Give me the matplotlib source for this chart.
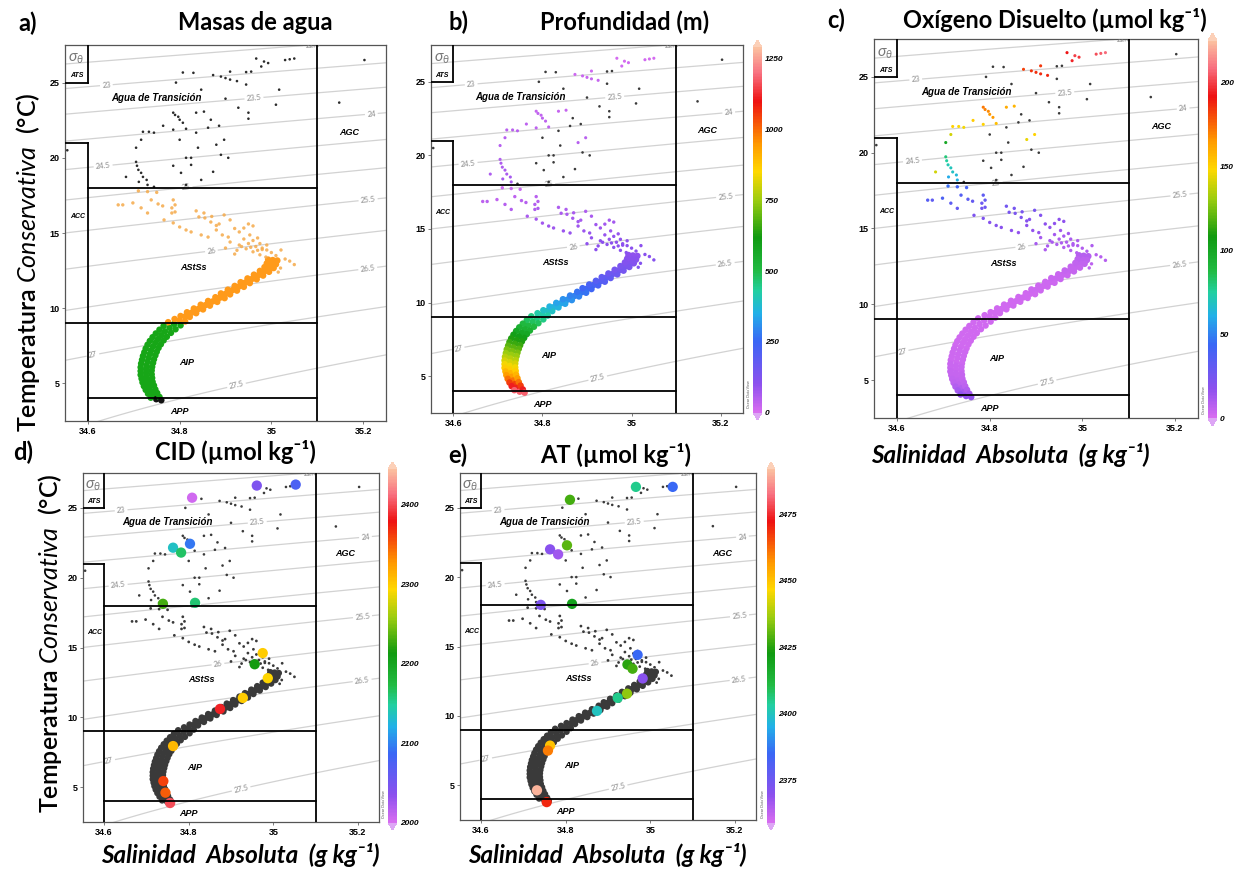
import numpy as np
import matplotlib
matplotlib.use('Agg')
import matplotlib.pyplot as plt
from matplotlib.colors import LinearSegmentedColormap, Normalize
from matplotlib.cm import ScalarMappable

plt.rcParams['font.family'] = ['Lato', 'DejaVu Sans']
plt.rcParams['mathtext.fontset'] = 'custom'
plt.rcParams['mathtext.rm'] = 'Lato'
plt.rcParams['mathtext.it'] = 'Lato:italic'
plt.rcParams['mathtext.bf'] = 'Lato:bold'

nan = np.nan

# ---------------- DATA ----------------
# Transition-water CTD points (T > 18 C); nan depth/oxygen = point without that variable (drawn gray)
trans_S = [35.040, 35.050, 35.030, 34.984, 34.993, 34.978, 34.967, 34.956, 34.945, 34.807,
           34.830, 34.873, 34.890, 34.900, 34.910, 34.925, 34.910, 34.945, 35.017, 34.792,
           34.847, 34.900, 34.928, 34.950, 34.950, 35.010, 34.786, 34.790, 34.797, 34.800,
           34.807, 34.836, 34.853, 34.868, 34.886, 34.814, 34.862, 34.764, 34.786, 34.720,
           34.733, 34.744, 34.836, 34.716, 34.800, 34.897, 34.705, 34.840, 34.880, 34.890,
           34.906, 34.814, 34.825, 34.825, 34.786, 34.705, 34.707, 34.710, 34.716, 34.720,
           34.728, 34.730, 34.683, 34.711, 34.803, 34.847, 34.873, 34.814, 34.744, 35.203,
           35.148, 34.555]
trans_T = [26.55, 26.60, 26.50, 26.40, 26.30, 26.07, 26.60, 25.73, 25.70, 25.67,
           25.65, 25.50, 25.40, 25.30, 25.20, 25.10, 25.73, 24.87, 24.53, 25.00,
           24.53, 23.93, 23.33, 23.00, 22.60, 23.53, 23.00, 22.85, 22.73, 22.53,
           22.33, 23.00, 23.07, 22.53, 22.13, 21.93, 22.00, 22.13, 21.87, 21.73,
           21.73, 21.67, 21.67, 21.20, 21.20, 21.20, 20.67, 20.67, 20.87, 20.20,
           20.00, 20.00, 20.00, 19.53, 19.47, 19.73, 19.47, 19.20, 19.00, 18.73,
           18.53, 18.20, 18.73, 18.40, 19.00, 18.53, 19.07, 18.20, 18.07, 26.50,
           23.67, 20.50]
trans_depth = [10, 8, 12, 10, 12, 15, 8, nan, nan, nan,
               nan, 20, 22, 24, 26, 28, 18, nan, nan, nan,
               nan, nan, nan, nan, nan, nan, 30, 32, 34, 36,
               38, 30, 30, nan, nan, 40, nan, 38, 40, 42,
               42, 44, nan, 46, nan, 45, 50, nan, 48, nan,
               nan, nan, nan, nan, nan, 55, 58, 60, 62, 64,
               66, 68, 60, 66, nan, nan, nan, nan, nan, nan,
               nan, nan]
trans_o2 = [205, 208, 203, 200, 198, 195, 192, nan, nan, nan,
            nan, 182, 185, 186, 187, 188, 184, nan, nan, nan,
            nan, nan, nan, nan, nan, nan, 172, 170, 168, 166,
            165, 160, 158, nan, nan, 155, nan, 152, 150, 150,
            148, 146, nan, 140, nan, 150, 100, nan, 145, nan,
            nan, nan, nan, nan, nan, 80, 75, 72, 70, 68,
            65, 62, 140, 60, nan, nan, nan, nan, nan, nan,
            nan, nan]

# Scattered CTD points of the upper AStSs (9 < T < 18)
ast_S = [34.666, 34.676, 34.698, 34.710, 34.730, 34.750, 34.716, 34.730, 34.738, 34.753,
         34.763, 34.783, 34.790, 34.783, 34.786, 34.790, 34.766, 34.786, 34.800, 34.814,
         34.825, 34.842, 34.855, 34.868, 34.886, 34.836, 34.853, 34.897, 34.910, 34.847,
         34.862, 34.880, 34.893, 34.906, 34.930, 34.940, 34.953, 34.970, 34.910, 34.930,
         34.950, 34.966, 34.980, 34.990, 35.021, 35.030, 35.040, 35.020, 34.900, 34.920,
         34.950, 34.960, 34.940, 34.960, 34.975, 34.990, 35.000, 35.010, 34.980, 35.050,
         35.015, 34.880, 34.870, 34.920, 34.945, 34.960, 34.975, 34.988, 34.935, 34.955,
         34.925, 34.970]
ast_T = [16.87, 16.87, 17.00, 17.80, 17.75, 17.70, 16.67, 16.33, 17.20, 16.93,
         16.80, 16.67, 16.40, 16.33, 17.20, 16.87, 15.87, 15.67, 15.40, 15.20,
         15.07, 16.07, 16.00, 15.73, 15.60, 16.47, 16.33, 16.20, 15.87, 14.87,
         14.73, 15.20, 14.87, 14.73, 15.07, 15.33, 14.87, 14.67, 14.40, 14.20,
         14.30, 14.10, 14.00, 13.87, 13.87, 13.27, 13.13, 12.67, 14.00, 13.60,
         15.60, 15.47, 14.60, 14.50, 14.30, 14.20, 13.70, 13.50, 13.90, 12.90,
         12.40, 15.50, 16.10, 15.30, 13.95, 13.75, 13.55, 13.40, 14.10, 14.05,
         13.85, 13.85]
ast_depth = [40, 45, 35, 20, 25, 25, 50, 55, 40, 45,
             50, 55, 60, 60, 45, 50, 65, 70, 75, 80,
             80, 65, 65, 70, 70, 60, 60, 60, 65, 85,
             90, 80, 85, 90, 80, 75, 85, 90, 95, 100,
             95, 100, 100, 105, 105, 110, 110, 120, 100, 105,
             70, 72, 90, 92, 96, 98, 105, 108, 102, 115,
             125, 75, 62, 78, 104, 106, 108, 110, 102, 103,
             104, 105]
ast_o2 = [35, 32, 38, 45, 42, 40, 33, 30, 36, 33,
          30, 28, 27, 26, 32, 30, 22, 22, 20, 20,
          19, 24, 23, 22, 20, 26, 25, 24, 21, 18,
          16, 18, 16, 15, 16, 17, 14, 13, 12, 12,
          11, 10, 10, 9, 10, 8, 8, 7, 12, 10,
          18, 17, 13, 12, 11, 10, 9, 9, 10, 8,
          7, 20, 24, 18, 10, 9, 9, 8, 11, 10,
          11, 9]

# Dense lower profile: three casts sampled at the same depth levels
band_depth = [100, 110, 120, 132, 145, 160, 180, 200, 222, 245,
              268, 290, 312, 335, 360, 390, 420, 450, 480, 510,
              540, 570, 600, 630, 660, 690, 720, 750, 780, 810,
              840, 870, 905, 940, 990, 1050, 1110, 1180]
band_o2 = [8, 7, 6, 5, 5, 4, 4, 3, 3, 3,
           2, 2, 2, 2, 2, 2, 2, 2, 2, 2,
           2, 2, 2, 2, 2, 3, 3, 3, 3, 4,
           4, 5, 5, 6, 7, 9, 12, 16]
castA_S = [35.003, 35.000, 34.995, 34.985, 34.972, 34.958, 34.943, 34.930, 34.915, 34.900,
           34.888, 34.872, 34.856, 34.841, 34.826, 34.812, 34.800, 34.788, 34.778, 34.768,
           34.760, 34.753, 34.747, 34.742, 34.738, 34.735, 34.732, 34.730, 34.728, 34.727,
           34.727, 34.727, 34.729, 34.731, 34.734, 34.738, 34.743, 34.749]
castA_T = [13.20, 12.95, 12.70, 12.45, 12.20, 11.95, 11.70, 11.45, 11.20, 10.95,
           10.70, 10.45, 10.20, 9.95, 9.70, 9.45, 9.20, 8.95, 8.70, 8.45,
           8.20, 7.95, 7.70, 7.45, 7.20, 6.95, 6.70, 6.45, 6.20, 5.95,
           5.70, 5.45, 5.20, 4.95, 4.70, 4.45, 4.20, 3.95]
castB_S = [35.013, 35.010, 35.005, 34.995, 34.982, 34.968, 34.953, 34.940, 34.925, 34.910,
           34.898, 34.882, 34.866, 34.851, 34.836, 34.822, 34.812, 34.802, 34.791, 34.781,
           34.772, 34.765, 34.759, 34.754, 34.750, 34.747, 34.744, 34.742, 34.740, 34.739,
           34.739, 34.740, 34.741, 34.744, 34.747, 34.751, 34.756, 34.760]
castB_T = [13.17, 12.92, 12.67, 12.42, 12.17, 11.92, 11.67, 11.42, 11.17, 10.92,
           10.67, 10.42, 10.17, 9.92, 9.67, 9.42, 9.12, 8.86, 8.60, 8.36,
           8.10, 7.86, 7.60, 7.36, 7.10, 6.86, 6.60, 6.36, 6.10, 5.86,
           5.60, 5.36, 5.10, 4.86, 4.60, 4.36, 4.10, 3.88]
castC_S = [34.993, 34.990, 34.985, 34.975, 34.962, 34.948, 34.933, 34.920, 34.905, 34.890,
           34.878, 34.862, 34.846, 34.831, 34.816, 34.802, 34.789, 34.775, 34.765, 34.756,
           34.748, 34.741, 34.735, 34.730, 34.726, 34.723, 34.720, 34.718, 34.716, 34.715,
           34.715, 34.715, 34.717, 34.719, 34.722, 34.726, 34.731, 34.737]
castC_T = [13.23, 12.98, 12.73, 12.48, 12.23, 11.98, 11.73, 11.48, 11.23, 10.98,
           10.73, 10.48, 10.23, 9.98, 9.73, 9.48, 9.28, 9.07, 8.82, 8.57,
           8.32, 8.07, 7.82, 7.57, 7.32, 7.07, 6.82, 6.57, 6.32, 6.07,
           5.82, 5.57, 5.32, 5.07, 4.82, 4.57, 4.32, 4.05]

# Discrete bottle samples
dic_S = [34.808, 34.961, 35.053, 34.803, 34.763, 34.782, 34.739, 34.815, 34.975, 34.956,
         34.987, 34.928, 34.874, 34.763, 34.740, 34.745, 34.756]
dic_T = [25.73, 26.60, 26.67, 22.43, 22.15, 21.80, 18.13, 18.20, 14.60, 13.80,
         12.80, 11.39, 10.60, 7.94, 5.43, 4.60, 3.86]
dic_val = [2005, 2045, 2075, 2095, 2135, 2165, 2230, 2160, 2300, 2215,
           2295, 2300, 2385, 2310, 2360, 2350, 2400]

ta_S = [34.810, 34.966, 35.053, 34.803, 34.763, 34.782, 34.741, 34.815, 34.970, 34.946,
        34.958, 34.982, 34.945, 34.923, 34.874, 34.763, 34.758, 34.732, 34.755]
ta_T = [25.57, 26.50, 26.50, 22.29, 22.00, 21.64, 18.00, 18.07, 14.40, 13.70,
        13.40, 12.70, 11.60, 11.30, 10.36, 7.86, 7.50, 4.64, 3.79]
ta_val = [2428, 2405, 2385, 2430, 2370, 2367, 2372, 2420, 2385, 2425,
          2428, 2370, 2435, 2405, 2400, 2450, 2460, 2490, 2470]

sigma_levels = [22.5, 23, 23.5, 24, 24.5, 25, 25.5, 26, 26.5, 27, 27.5]
xticks = [34.6, 34.8, 35.0, 35.2]
xticklabels = ['34.6', '34.8', '35', '35.2']
yticks = [5, 10, 15, 20, 25]

# ---------------- STYLE / HELPERS ----------------
W, H = 1239, 871
fig = plt.figure(figsize=(W / 100, H / 100), dpi=100)


def rect(x0, y0, x1, y1):
    return [x0 / W, 1 - y1 / H, (x1 - x0) / W, (y1 - y0) / H]


def fx(x):
    return x / W


def fy(y):
    return 1 - y / H


odv = LinearSegmentedColormap.from_list('odv', [
    (0.0, '#d86cf0'), (0.078, '#8c50ee'), (0.194, '#3a66f5'), (0.271, '#22b0e8'),
    (0.333, '#22d0a0'), (0.388, '#22bb44'), (0.48, '#109a10'), (0.58, '#9acc10'),
    (0.66, '#ffd800'), (0.736, '#ff9900'), (0.853, '#ee1111'), (0.93, '#f87080'),
    (1.0, '#fbc0a0')])
odv.set_under('#dda6f5')
odv.set_over('#fcd0b8')


def sigma0(SA, CT):
    S = SA * 35.0 / 35.16504
    T = CT
    rw = (999.842594 + 6.793952e-2 * T - 9.095290e-3 * T**2 + 1.001685e-4 * T**3
          - 1.120083e-6 * T**4 + 6.536332e-9 * T**5)
    A = 8.24493e-1 - 4.0899e-3 * T + 7.6438e-5 * T**2 - 8.2467e-7 * T**3 + 5.3875e-9 * T**4
    B = -5.72466e-3 + 1.0227e-4 * T - 1.6546e-6 * T**2
    C = 4.8314e-4
    return rw + A * S + B * S**1.5 + C * S**2 - 1000.0


XL = (34.55, 35.25)
YL = (2.5, 27.5)
sg, tg = np.meshgrid(np.linspace(34.4, 35.4, 200), np.linspace(1, 29, 200))
sig = sigma0(sg, tg)
label_pos = [(34.64, 24.9), (34.962, 24.0), (35.218, 22.9), (34.633, 19.5), (34.814, 18.07),
             (35.211, 17.2), (34.869, 13.87), (35.21, 12.67), (34.611, 6.87), (34.923, 5.0),
             (35.09, 27.35)]
dark = '#3a3a3a'
sans = ['Liberation Sans', 'DejaVu Sans']


def base(ax):
    ax.set_xlim(*XL)
    ax.set_ylim(*YL)
    cs = ax.contour(sg, tg, sig, levels=sigma_levels, colors='#d2d2d2', linewidths=0.9, zorder=1)
    lbl = ax.clabel(cs, manual=label_pos, inline=True, inline_spacing=2, fmt='%g', fontsize=5.5)
    for t in lbl:
        t.set_color('#8a8a8a')
    kw = dict(color='black', lw=1.3, zorder=6)
    ax.plot([34.6, 34.6], [YL[0], 21], **kw)
    ax.plot([XL[0], 34.6], [21, 21], **kw)
    ax.plot([34.6, 34.6], [25, YL[1]], **kw)
    ax.plot([XL[0], 34.6], [25, 25], **kw)
    ax.plot([35.1, 35.1], [YL[0], YL[1]], **kw)
    ax.plot([34.6, 35.1], [18, 18], **kw)
    ax.plot([XL[0], 35.1], [9, 9], **kw)
    ax.plot([34.6, 35.1], [4, 4], **kw)
    tk = dict(fontsize=6.5, fontweight='bold', style='italic', ha='center', va='center',
              family=sans, zorder=7)
    ax.text(34.575, 25.45, 'ATS', **{**tk, 'fontsize': 5})
    ax.text(34.574, 26.55, r'$\sigma_\theta$', fontsize=11, color='#777777', ha='center',
            va='center', zorder=7)
    ax.text(34.75, 24.0, 'Agua de Transición', **{**tk, 'fontsize': 7})
    ax.text(35.17, 21.7, 'AGC', **tk)
    ax.text(34.577, 16.1, 'ACC', **{**tk, 'fontsize': 5})
    ax.text(34.83, 12.7, 'AStSs', **tk)
    ax.text(34.815, 6.4, 'AIP', **tk)
    ax.text(34.80, 3.1, 'APP', **tk)
    ax.set_xticks(xticks)
    ax.set_xticklabels(xticklabels)
    ax.set_yticks(yticks)
    ax.tick_params(length=2, width=0.6, labelsize=6.5, pad=2, color='#666666')
    for lab in ax.get_xticklabels() + ax.get_yticklabels():
        lab.set_fontweight('bold')
        lab.set_family(sans)
    for sp in ax.spines.values():
        sp.set_color('#555555')
        sp.set_linewidth(0.9)


def colorbar(box, norm, ticks):
    cax = fig.add_axes(rect(*box))
    cb = fig.colorbar(ScalarMappable(norm=norm, cmap=odv), cax=cax, extend='both',
                      extendfrac=0.02)
    cb.outline.set_visible(False)
    cb.set_ticks(ticks)
    cb.set_ticklabels([str(t) for t in ticks])
    cax.tick_params(length=0, labelsize=6, pad=2)
    for lab in cax.get_yticklabels():
        lab.set_fontweight('bold')
        lab.set_style('italic')
        lab.set_family(sans)
    fig.text(fx(box[0] - 4), fy(box[3] - 12), 'Ocean Data View', rotation=90, fontsize=2.6,
             color='#555555', ha='center', va='bottom')
    return cax


def casts():
    return [(castA_S, castA_T), (castB_S, castB_T), (castC_S, castC_T)]


band_s = 22
title_kw = dict(fontsize=17, fontweight='bold', va='center')

# ---------------- PANEL A ----------------
axa = fig.add_axes(rect(65, 45, 386, 421))
base(axa)
for cS, cT in casts():
    cT_arr = np.array(cT)
    cols = np.where(cT_arr > 9, '#ff9a1a', np.where(cT_arr > 4, '#17a617', '#111111'))
    axa.scatter(cS, cT, s=band_s, c=list(cols), edgecolors='none', zorder=3)
axa.scatter(ast_S, ast_T, s=6, c='#f5aa4a', edgecolors='none', alpha=0.85, zorder=4)
axa.scatter(trans_S, trans_T, s=3.5, c='#2b2b2b', edgecolors='none', zorder=4)

# ---------------- PANEL B ----------------
axb = fig.add_axes(rect(431, 45, 743, 413))
base(axb)
norm_b = Normalize(0, 1290)
for cS, cT in casts():
    axb.scatter(cS, cT, s=band_s, c=band_depth, cmap=odv, norm=norm_b, edgecolors='none', zorder=3)
td = np.array(trans_depth)
axb.scatter(np.array(trans_S)[np.isnan(td)], np.array(trans_T)[np.isnan(td)], s=3.5, c=dark,
            edgecolors='none', zorder=4)
axb.scatter(np.array(trans_S)[~np.isnan(td)], np.array(trans_T)[~np.isnan(td)], s=5,
            c=td[~np.isnan(td)], cmap=odv, norm=norm_b, edgecolors='none', zorder=4)
axb.scatter(ast_S, ast_T, s=6, c=ast_depth, cmap=odv, norm=norm_b, edgecolors='none', zorder=4)
colorbar((753, 40, 762, 420), norm_b, [0, 250, 500, 750, 1000, 1250])

# ---------------- PANEL C ----------------
axc = fig.add_axes(rect(874, 39, 1198, 418))
base(axc)
norm_c = Normalize(0, 225)
for cS, cT in casts():
    axc.scatter(cS, cT, s=band_s, c=band_o2, cmap=odv, norm=norm_c, edgecolors='none', zorder=3)
to = np.array(trans_o2)
axc.scatter(np.array(trans_S)[np.isnan(to)], np.array(trans_T)[np.isnan(to)], s=3.5, c=dark,
            edgecolors='none', zorder=4)
axc.scatter(np.array(trans_S)[~np.isnan(to)], np.array(trans_T)[~np.isnan(to)], s=5,
            c=to[~np.isnan(to)], cmap=odv, norm=norm_c, edgecolors='none', zorder=4)
axc.scatter(ast_S, ast_T, s=6, c=ast_o2, cmap=odv, norm=norm_c, edgecolors='none', zorder=4)
colorbar((1208, 33, 1217, 426), norm_c, [0, 50, 100, 150, 200])

# ---------------- PANEL D ----------------
axd = fig.add_axes(rect(83, 473, 379, 822))
base(axd)
for cS, cT in casts():
    axd.scatter(cS, cT, s=band_s, c=dark, edgecolors='none', zorder=3)
axd.scatter(trans_S, trans_T, s=3.5, c=dark, edgecolors='none', zorder=4)
axd.scatter(ast_S, ast_T, s=4, c=dark, edgecolors='none', zorder=4)
norm_d = Normalize(2000, 2445)
axd.scatter(dic_S, dic_T, s=55, c=dic_val, cmap=odv, norm=norm_d, edgecolors='none', zorder=5)
colorbar((388, 462, 397, 830), norm_d, [2000, 2100, 2200, 2300, 2400])

# ---------------- PANEL E ----------------
axe = fig.add_axes(rect(460, 473, 756, 820))
base(axe)
for cS, cT in casts():
    axe.scatter(cS, cT, s=band_s, c=dark, edgecolors='none', zorder=3)
axe.scatter(trans_S, trans_T, s=3.5, c=dark, edgecolors='none', zorder=4)
axe.scatter(ast_S, ast_T, s=4, c=dark, edgecolors='none', zorder=4)
norm_e = Normalize(2359, 2492)
axe.scatter(ta_S, ta_T, s=55, c=ta_val, cmap=odv, norm=norm_e, edgecolors='none', zorder=5)
colorbar((767, 462, 775, 830), norm_e, [2375, 2400, 2425, 2450, 2475])

# ---------------- TITLES & LABELS ----------------
fig.text(fx(18), fy(23), 'a)', ha='left', **title_kw)
fig.text(fx(255), fy(23), 'Masas de agua', ha='center', **title_kw)
fig.text(fx(448), fy(22), 'b)', ha='left', **title_kw)
fig.text(fx(625), fy(22), 'Profundidad (m)', ha='center', **title_kw)
fig.text(fx(827), fy(20), 'c)', ha='left', **title_kw)
fig.text(fx(1055), fy(20), 'Oxígeno Disuelto (µmol kg⁻¹)', ha='center', **title_kw)
fig.text(fx(13), fy(452), 'd)', ha='left', **title_kw)
fig.text(fx(235), fy(452), 'CID (µmol kg⁻¹)', ha='center', **title_kw)
fig.text(fx(448), fy(455), 'e)', ha='left', **title_kw)
fig.text(fx(616), fy(455), 'AT (µmol kg⁻¹)', ha='center', **title_kw)

ylab = r'Temperatura $\mathit{Conservativa}$  (°C)'
fig.text(fx(28), fy(262), ylab, rotation=90, ha='center', va='center', fontsize=18,
         fontweight='semibold')
fig.text(fx(50), fy(643), ylab, rotation=90, ha='center', va='center', fontsize=18,
         fontweight='semibold')

xlab = 'Salinidad  Absoluta  (g kg⁻¹)'
xl_kw = dict(ha='center', va='center', fontsize=17.5, style='italic', fontweight='bold')
fig.text(fx(1010), fy(455), xlab, **xl_kw)
fig.text(fx(240), fy(855), xlab, **xl_kw)
fig.text(fx(607), fy(855), xlab, **xl_kw)

fig.savefig('out.png', dpi=100)
